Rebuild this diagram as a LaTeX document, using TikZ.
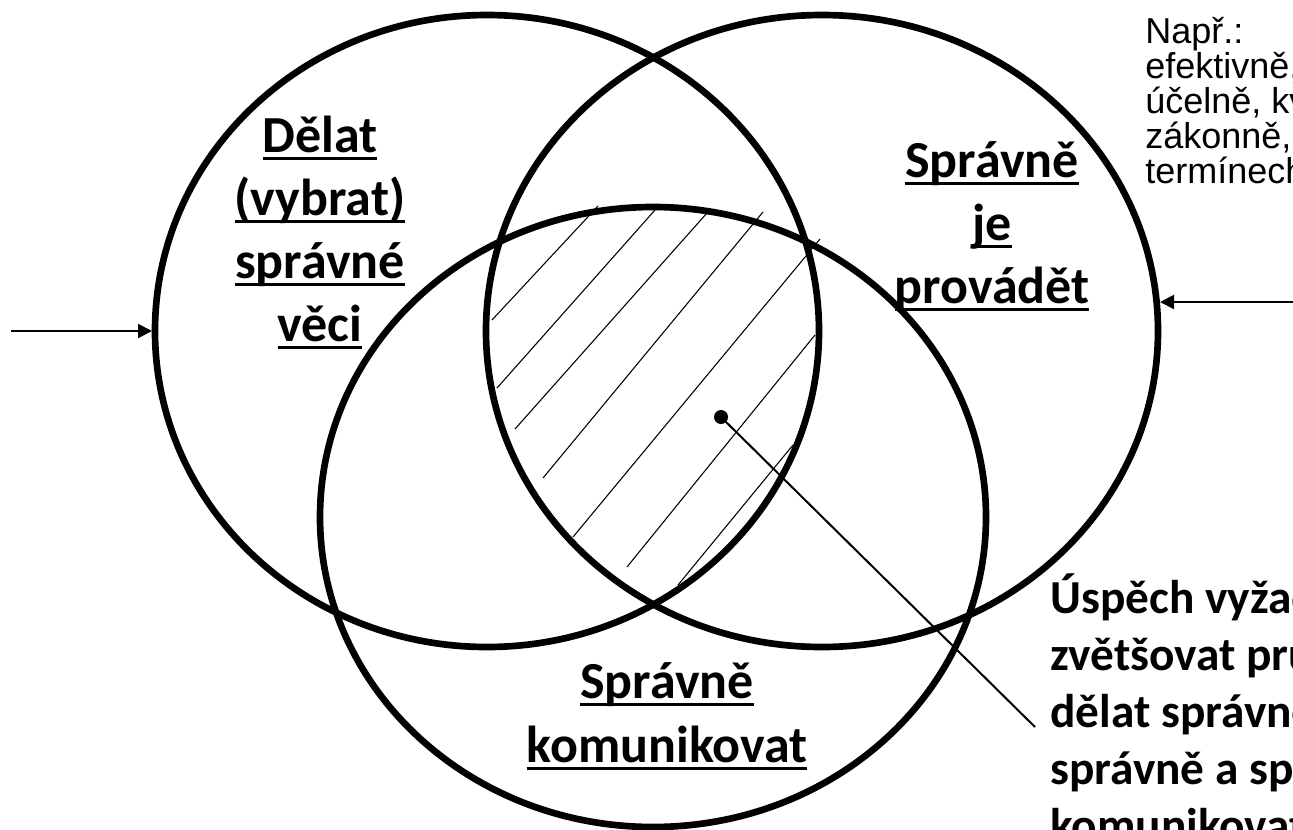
\documentclass[tikz,border=0pt]{standalone}
\usepackage{fontspec}
\setmainfont{Carlito}
\newfontfamily\arialf{Liberation Sans}
\usetikzlibrary{arrows.meta}
\newcommand{\myul}[1]{\setbox0\hbox{#1}\rlap{\rule[-0.15em]{\wd0}{0.06em}}\box0}
\begin{document}
\begin{tikzpicture}[x=0.75pt,y=-0.75pt,
  venn/.style={draw=black, line width=5pt},
  hatch/.style={draw=black, line width=0.8pt},
  lbl/.style={font=\fontsize{39}{47}\selectfont\bfseries, inner sep=0pt, anchor=base},
  blk/.style={font=\fontsize{35.5}{43}\selectfont\bfseries, inner sep=0pt, anchor=base west},
  nap/.style={font=\arialf\fontsize{27}{32}\selectfont, inner sep=0pt, anchor=base west},
  arr/.style={-{Triangle[length=10.5pt,width=10.5pt]}, line width=1.5pt},
  lead/.style={line width=1.5pt}]
\useasboundingbox (0,0) rectangle (1293,829);
\clip (0,0) rectangle (1293,829);
\fill[white] (0,0) rectangle (1293,829);
% hatch
\draw[hatch] (492,320) -- (598,206);
\draw[hatch] (497,388) -- (655,210);
\draw[hatch] (515,429) -- (707,213);
\draw[hatch] (543,478) -- (763,212);
\draw[hatch] (573,537) -- (820,239);
\draw[hatch] (627,567) -- (815,335);
\draw[hatch] (678,585) -- (793,445);
% circles
\draw[venn] (487,331) ellipse [x radius=332, y radius=316];
\draw[venn] (822,331) ellipse [x radius=336, y radius=316];
\draw[venn] (653,517) ellipse [x radius=333, y radius=310];
% labels
\node[lbl] (d1) at (320,152) {\myul{Dělat}};
\node[lbl] (d2) at (320,215) {\myul{(vybrat)}};
\node[lbl] (d3) at (320,278) {\myul{správné}};
\node[lbl] (d4) at (320,341) {\myul{věci}};
\node[lbl] (p1) at (992,177) {\myul{Správně}};
\node[lbl] (p2) at (992,240) {\myul{je}};
\node[lbl] (p3) at (992,303) {\myul{provádět}};
\node[lbl] (k1) at (667,698) {\myul{Správně}};
\node[lbl] (k2) at (667,762) {\myul{komunikovat}};
% note
\node[nap] (n1) at (1145,43) {Např.:};
\node[nap] (n2) at (1145,78) {efektivně, hospodárně,};
\node[nap] (n3) at (1145,113) {účelně, kvalitně,};
\node[nap] (n4) at (1145,148) {zákonně, v};
\node[nap] (n5) at (1145,183) {termínech};
% block
\node[blk] (u1) at (1050,613) {Úspěch vyžaduje};
\node[blk] (u2) at (1050,670) {zvětšovat průnik:};
\node[blk] (u3) at (1050,727) {dělat správné věci};
\node[blk] (u4) at (1050,784) {správně a správně};
\node[blk] (u5) at (1050,841) {komunikovat};
% arrows
\coordinate (lstart) at (11,331);
\coordinate (ltip) at (152,331);
\coordinate (rstart) at (1293,302);
\coordinate (rtip) at (1160,302);
\draw[arr] (lstart) -- (ltip);
\draw[arr] (rstart) -- (rtip);
% dot and leader
\node[circle, fill=black, inner sep=0pt, minimum size=10.5pt] (dot) at (721,417) {};
\coordinate (leadend) at (1035,727);
\draw[lead] (dot.center) -- (leadend);
\end{tikzpicture}
\end{document}
